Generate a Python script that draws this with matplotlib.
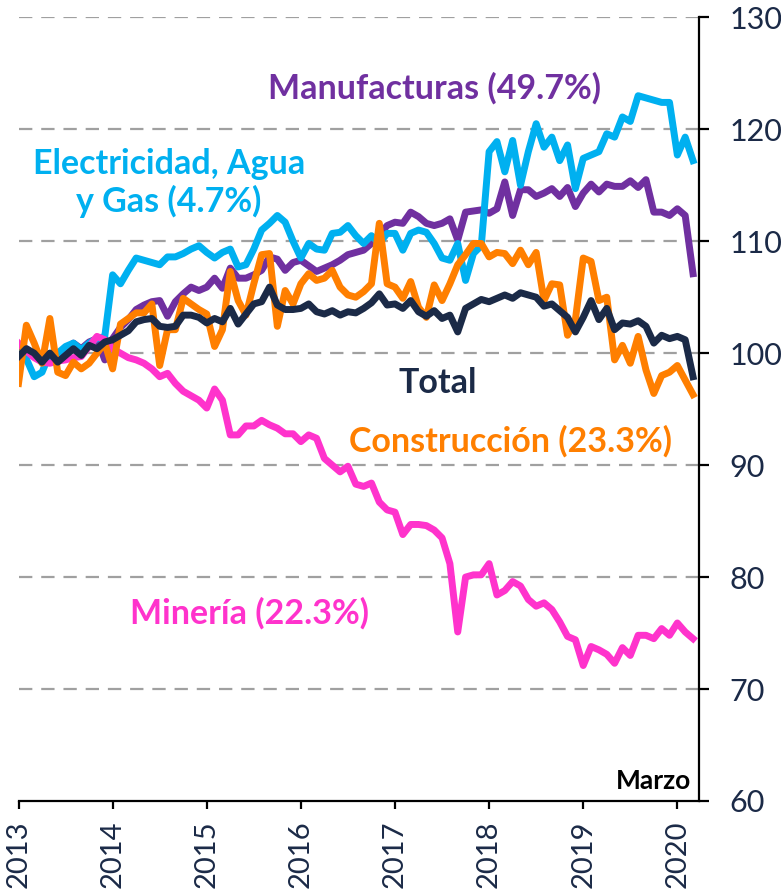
import matplotlib
matplotlib.use("Agg")
from matplotlib import pyplot as plt
import numpy as np

# Indices de produccion industrial, base 2013 (mensual, ene-2013 a mar-2020)
start_year = 2013
total = [99.7, 100.4, 100.0, 99.2, 100.0, 99.2, 99.8, 100.4, 99.8, 100.7, 100.4, 101.0,
         101.2, 101.6, 102.0, 102.8, 103.0, 103.1, 102.4, 102.3, 102.4, 103.4, 103.4, 103.2,
         102.7, 103.1, 102.8, 104.0, 102.6, 103.5, 104.4, 104.6, 105.9, 104.3, 103.9, 103.9,
         104.0, 104.4, 103.7, 103.5, 103.8, 103.4, 103.7, 103.6, 104.0, 104.5, 105.3, 104.3,
         104.4, 104.0, 104.7, 103.7, 103.3, 103.8, 103.1, 103.4, 101.9, 104.0, 104.4, 104.8,
         104.6, 104.9, 105.2, 104.9, 105.4, 105.2, 105.0, 104.2, 104.4, 103.8, 103.2, 101.9,
         103.2, 104.7, 103.0, 104.0, 102.1, 102.7, 102.6, 102.9, 102.4, 100.9, 101.6, 101.3,
         101.5, 101.2, 97.9]
electricidad = [100.0, 99.5, 97.9, 98.3, 100.0, 100.0, 100.6, 100.9, 100.3, 100.9, 101.3, 101.5,
                107.0, 106.2, 107.4, 108.5, 108.3, 108.1, 107.9, 108.6, 108.6, 108.9, 109.3, 109.6,
                109.0, 108.5, 109.0, 109.3, 107.7, 107.9, 109.3, 111.0, 111.6, 112.3, 111.7, 110.0,
                108.5, 109.8, 109.3, 109.2, 110.7, 110.8, 111.4, 110.5, 109.8, 110.5, 109.8, 110.7,
                110.7, 109.2, 110.7, 111.0, 110.8, 109.8, 108.5, 108.3, 109.8, 106.5, 108.9, 109.6,
                118.0, 118.9, 116.2, 119.0, 115.0, 118.0, 120.5, 118.4, 119.3, 117.2, 118.6, 114.7,
                117.4, 117.7, 118.0, 119.6, 119.3, 121.1, 120.7, 123.0, 122.8, 122.6, 122.4, 122.4,
                117.7, 119.3, 117.2]
manufacturas = [100.0, 100.4, 99.8, 99.3, 99.6, 99.6, 100.2, 100.9, 100.4, 101.0, 101.3, 99.4,
                101.3, 102.3, 103.0, 103.9, 104.3, 104.6, 104.7, 103.3, 104.6, 105.3, 105.9, 105.6,
                105.9, 106.7, 105.8, 107.6, 106.7, 106.7, 107.0, 107.4, 108.6, 108.4, 107.4, 108.1,
                108.3, 107.8, 107.3, 107.6, 107.9, 108.3, 108.8, 109.0, 109.2, 109.8, 110.6, 111.4,
                111.7, 111.6, 112.6, 112.2, 111.6, 111.4, 111.6, 112.0, 110.1, 112.6, 112.7, 112.8,
                112.5, 112.9, 115.3, 112.3, 114.6, 114.6, 114.0, 114.3, 114.7, 114.0, 114.8, 113.1,
                114.3, 115.1, 114.4, 115.1, 114.9, 114.9, 115.4, 114.8, 115.5, 112.6, 112.6, 112.3,
                112.9, 112.3, 107.1]
construccion = [97.3, 102.5, 100.9, 99.1, 103.1, 98.3, 98.0, 99.2, 98.6, 99.1, 100.0, 100.9,
                98.6, 102.6, 103.1, 103.6, 103.6, 104.4, 98.9, 102.1, 102.1, 104.9, 104.4, 103.9,
                103.5, 100.6, 102.1, 107.3, 104.7, 103.4, 106.2, 108.8, 108.9, 102.4, 105.6, 104.4,
                106.2, 107.1, 106.5, 106.7, 107.4, 105.9, 105.2, 105.0, 105.5, 106.2, 111.6, 106.2,
                105.9, 104.9, 106.4, 104.1, 103.2, 106.1, 104.7, 106.2, 107.9, 108.8, 109.8, 109.8,
                108.6, 109.0, 108.9, 108.0, 109.2, 107.9, 109.0, 104.7, 106.2, 106.1, 101.6, 103.0,
                108.5, 108.2, 104.7, 105.0, 99.4, 100.7, 99.1, 101.5, 98.5, 96.4, 98.0, 98.3,
                98.9, 97.6, 96.3]
mineria = [100.9, 100.2, 99.6, 99.2, 99.1, 99.3, 99.4, 99.6, 99.7, 100.6, 101.5, 101.2,
           100.4, 100.0, 99.6, 99.4, 99.1, 98.6, 97.9, 98.2, 97.3, 96.6, 96.2, 95.8,
           95.1, 96.8, 95.8, 92.7, 92.7, 93.5, 93.5, 94.0, 93.6, 93.3, 92.8, 92.8,
           92.1, 92.7, 92.4, 90.6, 90.0, 89.4, 89.9, 88.3, 88.1, 88.4, 86.7, 86.0,
           85.8, 83.8, 84.7, 84.7, 84.6, 84.2, 83.5, 81.2, 75.1, 80.0, 80.2, 80.2,
           81.2, 78.4, 78.8, 79.6, 79.2, 78.0, 77.4, 77.7, 77.1, 76.0, 74.7, 74.4,
           72.1, 73.8, 73.5, 73.1, 72.3, 73.7, 73.0, 74.8, 74.8, 74.5, 75.4, 74.8,
           75.9, 75.1, 74.5]
years = list(range(2013, 2021))
y_ticks = [60, 70, 80, 90, 100, 110, 120, 130]

navy = "#1b2a47"
c_elec = "#00b0f0"
c_manu = "#7030a0"
c_cons = "#ff7f00"
c_min = "#ff33cc"

plt.rcParams["font.family"] = ["Lato", "DejaVu Sans"]

fig = plt.figure(figsize=(7.81, 8.89), dpi=100)
ax = fig.add_axes([0.0237, 0.099, 0.8713, 0.8815])

x = start_year + np.arange(len(total)) / 12.0
lw = 5
ax.plot(x, manufacturas, color=c_manu, lw=lw, solid_joinstyle="round", zorder=3)
ax.plot(x, electricidad, color=c_elec, lw=lw, solid_joinstyle="round", zorder=4)
ax.plot(x, mineria, color=c_min, lw=lw, solid_joinstyle="round", zorder=5)
ax.plot(x, construccion, color=c_cons, lw=lw, solid_joinstyle="round", zorder=6)
ax.plot(x, total, color=navy, lw=lw, solid_joinstyle="round", zorder=7)

ax.set_xlim(2013, 2020.23)
ax.set_ylim(60, 130)

# dashed grid lines
for v in y_ticks[1:]:
    ax.axhline(v, color="#a0a0a0", lw=1.6, dashes=(6, 4), zorder=1)

ax.spines["left"].set_visible(False)
ax.spines["top"].set_visible(False)
ax.spines["right"].set_linewidth(1.6)
ax.spines["bottom"].set_linewidth(1.6)
ax.yaxis.tick_right()
ax.set_yticks(y_ticks)
ax.tick_params(axis="y", direction="out", length=7, width=1.6, pad=15,
               labelsize=22, labelcolor=navy)
ax.set_xticks(years)
ax.set_xticklabels([str(y) for y in years], rotation=90)
ax.tick_params(axis="x", direction="out", length=6, width=1.6, pad=8,
               labelsize=21, labelcolor=navy)


# series labels, placed in pixel coordinates of the figure
def label(px, py, s, color, size=24.5):
    fig.text(px / 781, 1 - py / 889, s, color=color, fontsize=size, fontweight="bold",
             ha="center", va="center", linespacing=1.2)


label(435, 88, "Manufacturas (49.7%)", c_manu)
label(169, 183, "Electricidad, Agua\ny Gas (4.7%)", c_elec)
label(438, 383, "Total", navy)
label(511, 441, "Construcción (23.3%)", c_cons)
label(250, 613, "Minería (22.3%)", c_min)
label(654, 781, "Marzo", "black", size=19)

fig.savefig("out.png", dpi=100)
